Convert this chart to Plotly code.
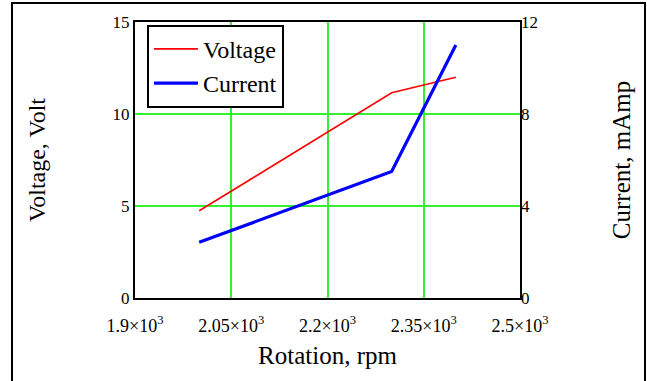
import plotly.graph_objects as go

rotation = [2000, 2300, 2400]
voltage = [4.74, 11.15, 12.0]
current = [2.42, 5.5, 11.0]

x_ticks = [1900, 2050, 2200, 2350, 2500]
x_tick_text = ["1.9×10<sup>3</sup>", "2.05×10<sup>3</sup>", "2.2×10<sup>3</sup>",
               "2.35×10<sup>3</sup>", "2.5×10<sup>3</sup>"]
v_ticks = [0, 5, 10, 15]
i_ticks = [0, 4, 8, 12]

FONT = "Liberation Serif, Times New Roman, serif"
GRID = "#33F033"

fig = go.Figure()
fig.add_trace(go.Scatter(x=rotation, y=voltage, name="Voltage", mode="lines",
                         line=dict(color="#FF0000", width=1.6), yaxis="y"))
fig.add_trace(go.Scatter(x=rotation, y=current, name="Current", mode="lines",
                         line=dict(color="#0000FF", width=3.2), yaxis="y2"))

fig.update_layout(
    width=647, height=381,
    margin=dict(l=135, r=127, t=22, b=83),
    paper_bgcolor="white", plot_bgcolor="white",
    font=dict(family=FONT, color="black", size=17),
    showlegend=True,
    legend=dict(x=0.031, y=0.99, xanchor="left", yanchor="top",
                bgcolor="white", bordercolor="black", borderwidth=2,
                font=dict(family=FONT, size=24), itemwidth=44,
                tracegroupgap=0),
    xaxis=dict(range=[1900, 2500], tickvals=x_ticks, ticktext=x_tick_text,
               showgrid=True, gridcolor=GRID, gridwidth=1.8,
               showline=True, linecolor="black", linewidth=2, mirror=True,
               ticks="outside", ticklen=10, tickcolor="rgba(0,0,0,0)",
               zeroline=False, tickfont=dict(size=18),
               title=dict(text="Rotation, rpm", font=dict(size=25), standoff=12)),
    yaxis=dict(range=[0, 15], tickvals=v_ticks,
               showgrid=True, gridcolor=GRID, gridwidth=1.6,
               showline=True, linecolor="black", linewidth=2, mirror=True,
               ticks="", zeroline=False, tickfont=dict(size=17),
               title=dict(text="Voltage, Volt", font=dict(size=24), standoff=60)),
    yaxis2=dict(range=[0, 12], tickvals=i_ticks, overlaying="y", side="right",
                showgrid=False, showline=False, zeroline=False,
                ticks="", tickfont=dict(size=17),
                title=dict(text="Current, mAmp", font=dict(size=25), standoff=75)),
    shapes=[dict(type="rect", xref="paper", yref="paper",
                 x0=-0.3195, x1=1.3247, y0=-0.33, y1=1.069,
                 line=dict(color="black", width=2), fillcolor="rgba(0,0,0,0)",
                 layer="below")],
)

fig.write_html("out.html", config={"displayModeBar": False},
               post_script="document.body.style.margin='0';")
